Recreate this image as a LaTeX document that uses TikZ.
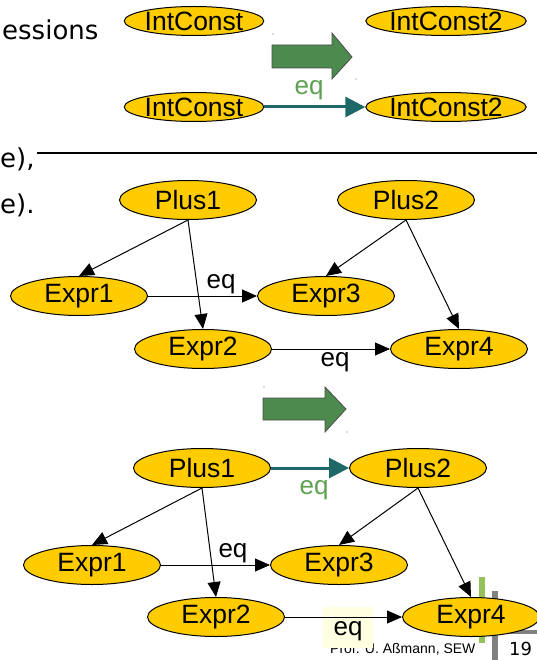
\documentclass[tikz,border=0pt]{standalone}
\usepackage{fontspec}
\setmainfont{Liberation Sans}
\newfontfamily\slidefont{DejaVu Sans}
\usetikzlibrary{shapes.geometric,arrows.meta}
\definecolor{nodegold}{RGB}{255,204,0}
\definecolor{eqteal}{RGB}{31,104,104}
\definecolor{eqgreen}{RGB}{92,160,80}
\definecolor{bigarrow}{RGB}{77,138,77}
\definecolor{notebg}{RGB}{255,255,226}
\definecolor{bargreen}{RGB}{150,192,90}
\definecolor{bargrey}{RGB}{128,128,128}
\begin{document}
\begin{tikzpicture}[x=1pt,y=-1pt,
  term/.style={ellipse, draw=black, line width=1pt, fill=nodegold, inner sep=0pt,
    minimum width=137pt, minimum height=39pt, font=\fontsize{26.5}{26.5}\selectfont},
  constterm/.style={term, minimum width=138pt, minimum height=29pt},
  edge/.style={line width=1pt, -{Triangle[length=15pt,width=13pt]}},
  eqedge/.style={line width=3pt, eqteal, -{Triangle[length=20pt,width=20pt]}},
  lbl/.style={font=\fontsize{26}{26}\selectfont, inner sep=0pt, anchor=base},
  greenlbl/.style={lbl, text=eqgreen},
  slidetext/.style={font=\slidefont\fontsize{26}{26}\selectfont, inner sep=0pt, anchor=base west},
  rewrite/.style={draw=black!70, line width=0.8pt, fill=bigarrow},
  speck/.style={fill=black!60}
]
\useasboundingbox (0,0) rectangle (537,660);

% clipped slide text on the left
\node[slidetext] (t1) at (2,40) {essions};
\node[slidetext] (t2) at (0,168) {e),};
\node[slidetext] (t3) at (0,213) {e).};
\draw[line width=1.2pt] (37,153) -- (537,153);

% footer decoration
\fill[bargreen] (479,577) rectangle (485,643);
\fill[bargrey] (492,591) rectangle (498,660);
\fill[bargrey] (498,630) rectangle (537,634);
\node[font=\fontsize{14}{14}\selectfont, inner sep=0pt, anchor=base west] (foot) at (330,653) {Prof. U. Aßmann, SEW};
\node[font=\slidefont\fontsize{18}{18}\selectfont, inner sep=0pt, anchor=base west] (page) at (509,655) {19};
\fill[notebg] (323,607) rectangle (373,648);

% ---- IntConst rule ----
\node[constterm] (ic1) at (194,21) {IntConst};
\node[constterm] (ic2) at (446,21) {IntConst2};
\node[constterm] (ic3) at (194,107) {IntConst};
\node[constterm] (ic4) at (446,107) {IntConst2};
\draw[eqedge] (ic3) -- (ic4);
\node[greenlbl] (eqa) at (309,95) {eq};

\draw[rewrite] (272,45) -- (332,45) -- (332,33) -- (352,57) -- (332,79) -- (332,68) -- (272,68) -- cycle;
\fill[speck] (273,34) circle (0.7pt);
\fill[speck] (356,79) circle (0.7pt);

% ---- Plus rule: left-hand side ----
\node[term] (p1) at (188,200) {Plus1};
\node[term] (p2) at (406,200) {Plus2};
\node[term] (e1) at (79,296) {Expr1};
\node[term] (e3) at (326,296) {Expr3};
\node[term] (e2) at (203,349) {Expr2};
\node[term] (e4) at (459,349) {Expr4};
\draw[edge] (p1.south) -- (e1.north);
\draw[edge] (p1.south) -- (e2.north);
\draw[edge] (p2.south) -- (e3.north);
\draw[edge] (p2.south) -- (e4.north);
\draw[edge] (e1) -- (e3);
\draw[edge] (e2) -- (e4);
\node[lbl] (eqb) at (221,288) {eq};
\node[lbl] (eqc) at (335,366) {eq};

\draw[rewrite] (263,398) -- (325,398) -- (325,387) -- (346,409) -- (325,432) -- (325,420) -- (263,420) -- cycle;
\fill[speck] (264,387) circle (0.7pt);
\fill[speck] (347,432) circle (0.7pt);

% ---- Plus rule: right-hand side ----
\node[term] (q1) at (202,468) {Plus1};
\node[term] (q2) at (418,468) {Plus2};
\node[term] (f1) at (92,565) {Expr1};
\node[term] (f3) at (339,565) {Expr3};
\node[term] (f2) at (216,617) {Expr2};
\node[term] (f4) at (471,617) {Expr4};
\draw[eqedge] (q1) -- (q2);
\node[greenlbl] (eqd) at (314,494) {eq};
\draw[edge] (q1.south) -- (f1.north);
\draw[edge] (q1.south) -- (f2.north);
\draw[edge] (q2.south) -- (f3.north);
\draw[edge] (q2.south) -- (f4.north);
\draw[edge] (f1) -- (f3);
\draw[edge] (f2) -- (f4);
\node[lbl] (eqe) at (233,557) {eq};
\node[lbl] (eqf) at (348,635) {eq};
\end{tikzpicture}
\end{document}
